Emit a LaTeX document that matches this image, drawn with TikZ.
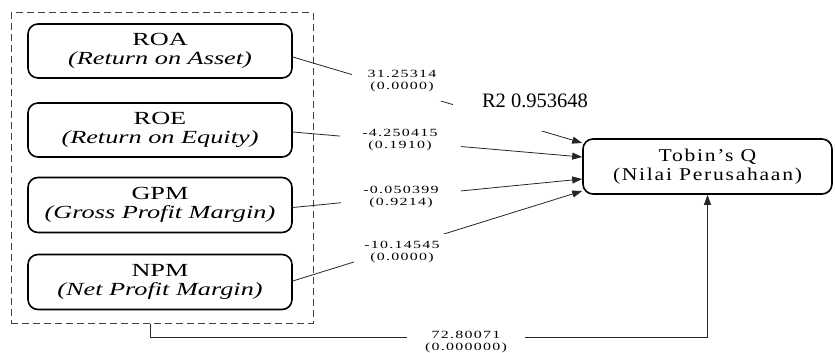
\documentclass[tikz,border=0pt]{standalone}
\usepackage{fontspec}
\setmainfont{Liberation Serif}
\newfontfamily\numfont[LetterSpace=8]{Liberation Serif}
\newfontfamily\tobfont[LetterSpace=8]{Liberation Serif}
\usetikzlibrary{arrows.meta,calc}
\newcommand{\hs}[2]{\scalebox{#1}[1]{#2}}
\newcommand{\boxtext}[2]{\hs{1.42}{#1}\\\hs{1.42}{\itshape #2}}
\newcommand{\coeftext}[2]{\hs{1.45}{#1}\\\hs{1.45}{#2}}
\begin{document}
\begin{tikzpicture}[x=1pt,y=-1pt,
  varbox/.style={draw,line width=1.6pt,rounded corners=10pt,minimum width=264pt,
    minimum height=54pt,align=center,inner sep=0pt,
    font=\fontsize{18.5}{19.5}\selectfont},
  grpbox/.style={draw=black!75,line width=1pt,dash pattern=on 7pt off 4pt,
    minimum width=302pt,minimum height=310pt,inner sep=0pt},
  conn/.style={line width=0.8pt,draw=black!85},
  tip/.style={-{Triangle[length=10pt,width=7pt]}},
  coef/.style={fill=white,align=center,inner sep=0pt,
    font=\numfont\fontsize{11}{11.5}\selectfont}]
\useasboundingbox (0,0) rectangle (835,353);

% group box
\node[grpbox] (grp) at (162,168) {};

% independent variables
\node[varbox] (roa) at (160,51)  {\boxtext{ROA}{(Return on Asset)}};
\node[varbox] (roe) at (160,130) {\boxtext{ROE}{(Return on Equity)}};
\node[varbox,minimum height=55pt] (gpm) at (160,205) {\boxtext{GPM}{(Gross Profit Margin)}};
\node[varbox,minimum height=55pt] (npm) at (160,282) {\boxtext{NPM}{(Net Profit Margin)}};

% dependent variable
\node[varbox,minimum width=249pt,minimum height=55pt,font=\tobfont\fontsize{18}{19}\selectfont]
  (tobin) at (707.5,166.5) {\hs{1.2}{Tobin’s Q}\\\hs{1.2}{(Nilai Perusahaan)}};

% connectors
\draw[conn,tip] ([yshift=-6pt]roa.east)   -- ([yshift=23.5pt]tobin.west);
\draw[conn,tip] ([yshift=-2pt]roe.east)   -- ([yshift=9.5pt]tobin.west);
\draw[conn,tip] ([yshift=-2.5pt]gpm.east) -- ([yshift=-12.5pt]tobin.west);
\draw[conn,tip] ([yshift=1pt]npm.east)    -- ([yshift=-24.5pt]tobin.west);
\coordinate (bc) at (tobin.south |- 0,337);
\draw[conn,tip] ([xshift=-12pt]grp.south) |- (bc) -- (tobin.south);

% coefficient labels
\node[coef,minimum width=100pt,minimum height=40pt] (c1) at (402,81)  {\coeftext{31.25314}{(0.0000)}};
\node[coef,minimum width=121pt,minimum height=26pt] (c2) at (400,140) {\coeftext{-4.250415}{(0.1910)}};
\node[coef,minimum width=120pt,minimum height=26pt] (c3) at (401,197) {\coeftext{-0.050399}{(0.9214)}};
\node[coef,minimum width=97pt,minimum height=36pt]  (c4) at (402,252) {\coeftext{-10.14545}{(0.0000)}};
\node[coef,minimum width=118pt,minimum height=22pt] (c5) at (466,342) {\coeftext{72.80071}{(0.000000)}};
\node[fill=white,inner sep=0pt,minimum width=164pt,minimum height=60pt,
  font=\fontsize{20.5}{24}\selectfont] (r2) at (535,101) {R2 0.953648};
\end{tikzpicture}
\end{document}
